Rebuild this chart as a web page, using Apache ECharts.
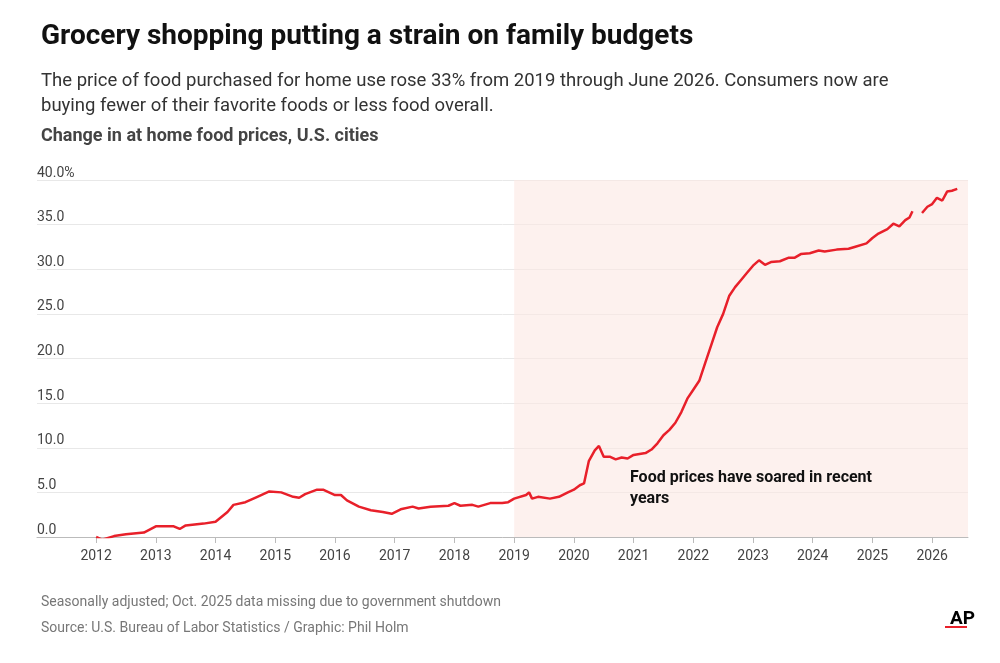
<!DOCTYPE html>
<html style="height: 100%">
<head>
<meta charset="utf-8">
<script src="https://cdn.jsdelivr.net/npm/echarts@6/dist/echarts.min.js"></script>
</head>
<body style="height: 100%; margin: 0; background: #fff">
<div id="container" style="height: 100%"></div>
<script>
var dom = document.getElementById("container");
var myChart = echarts.init(dom);

// [decimal year, % change since Jan 2012]
var prices = [
  [2012.0, 0], [2012.1, -0.3], [2012.3, 0.1], [2012.5, 0.3], [2012.8, 0.5], [2013.0, 1.2],
  [2013.3, 1.2], [2013.4, 0.9], [2013.5, 1.3], [2013.8, 1.5], [2014.0, 1.7], [2014.2, 2.8],
  [2014.3, 3.6], [2014.5, 3.9], [2014.7, 4.5], [2014.9, 5.1], [2015.1, 5.0], [2015.3, 4.5],
  [2015.4, 4.4], [2015.5, 4.8], [2015.7, 5.3], [2015.8, 5.3], [2016.0, 4.7], [2016.1, 4.7],
  [2016.2, 4.1], [2016.4, 3.4], [2016.6, 3.0], [2016.8, 2.8], [2016.95, 2.6], [2017.1, 3.1],
  [2017.3, 3.4], [2017.4, 3.2], [2017.6, 3.4], [2017.9, 3.5], [2018.0, 3.8], [2018.1, 3.5],
  [2018.3, 3.6], [2018.4, 3.4], [2018.6, 3.8], [2018.8, 3.8], [2018.9, 3.9], [2019.0, 4.3],
  [2019.2, 4.7], [2019.25, 5.0], [2019.3, 4.3], [2019.4, 4.5], [2019.6, 4.3], [2019.75, 4.5],
  [2019.9, 5.0], [2020.0, 5.3], [2020.1, 5.8], [2020.17, 6.0], [2020.25, 8.5], [2020.35, 9.7],
  [2020.42, 10.2], [2020.5, 9.0], [2020.6, 9.0], [2020.7, 8.7], [2020.8, 8.9], [2020.9, 8.8],
  [2021.0, 9.2], [2021.2, 9.4], [2021.3, 9.8], [2021.4, 10.5], [2021.5, 11.4], [2021.6, 12.0],
  [2021.7, 12.8], [2021.8, 14.0], [2021.9, 15.5], [2022.0, 16.5], [2022.1, 17.5], [2022.2, 19.5],
  [2022.3, 21.5], [2022.4, 23.5], [2022.5, 25.0], [2022.6, 27.0], [2022.7, 28.0], [2022.8, 28.8],
  [2022.9, 29.6], [2023.0, 30.4], [2023.1, 31.0], [2023.2, 30.5], [2023.3, 30.8], [2023.45, 30.9],
  [2023.6, 31.3], [2023.7, 31.3], [2023.8, 31.7], [2023.95, 31.8], [2024.1, 32.1], [2024.2, 32.0],
  [2024.4, 32.2], [2024.6, 32.3], [2024.7, 32.5], [2024.9, 32.9], [2025.0, 33.5], [2025.1, 34.0],
  [2025.25, 34.5], [2025.35, 35.1], [2025.45, 34.8], [2025.55, 35.5], [2025.62, 35.8], [2025.67, 36.5],
  [2025.75, null],
  [2025.83, 36.3], [2025.92, 37.0], [2026.0, 37.3], [2026.08, 38.0], [2026.17, 37.7],
  [2026.25, 38.7], [2026.33, 38.8], [2026.42, 39.0]
];

var years = [2012, 2013, 2014, 2015, 2016, 2017, 2018, 2019, 2020, 2021, 2022, 2023, 2024, 2025, 2026];

var option = {
  animation: false,
  textStyle: { fontFamily: 'Roboto, "Noto Sans", sans-serif' },
  title: [
    { text: 'Grocery shopping putting a strain on family budgets', left: 36, top: 18,
      textStyle: { fontSize: 28, fontWeight: 'bold', color: '#111' } },
    { text: 'The price of food purchased for home use rose 33% from 2019 through June 2026. Consumers now are\nbuying fewer of their favorite foods or less food overall.',
      left: 36, top: 64, textStyle: { fontSize: 18.5, fontWeight: 'normal', color: '#333', lineHeight: 25 } },
    { text: 'Change in at home food prices, U.S. cities', left: 36, top: 122,
      textStyle: { fontSize: 18, fontWeight: 'bold', color: '#444' } },
    { text: 'Seasonally adjusted; Oct. 2025 data missing due to government shutdown', left: 36, top: 590,
      textStyle: { fontSize: 14, fontWeight: 'normal', color: '#777' } },
    { text: 'Source: U.S. Bureau of Labor Statistics / Graphic: Phil Holm', left: 36, top: 616,
      textStyle: { fontSize: 14, fontWeight: 'normal', color: '#777' } },
    { text: 'AP', left: 945, top: 605, textStyle: { fontSize: 19, fontWeight: 'bold', color: '#000' } }
  ],
  graphic: [
    { type: 'rect', left: 945, top: 626, shape: { width: 22, height: 2 }, style: { fill: '#e8202a' } },
    { type: 'text', left: 630, top: 467, z: 100, style: { text: 'Food prices have soared in recent\nyears',
      font: 'bold 16px Roboto, sans-serif', fill: '#111', lineHeight: 21 } }
  ],
  grid: { left: 37, right: 32, top: 180, bottom: 126 },
  xAxis: {
    type: 'value', min: 2011.01, max: 2026.6,
    splitLine: { show: false },
    axisLine: { lineStyle: { color: '#bbb' } },
    axisTick: { customValues: years, length: 6, lineStyle: { color: '#bbb' } },
    axisLabel: { customValues: years, color: '#444', fontSize: 14, margin: 12,
      formatter: function (v) { return String(v); } }
  },
  yAxis: {
    type: 'value', min: 0, max: 40, interval: 5,
    axisLine: { show: false }, axisTick: { show: false },
    splitLine: { lineStyle: { color: '#e8e8e8' } },
    axisLabel: {
      inside: true, margin: 0, verticalAlign: 'bottom', color: '#444', fontSize: 14,
      formatter: function (v) { return v === 40 ? '40.0%' : v.toFixed(1); }
    }
  },
  series: [{
    type: 'line', data: prices, showSymbol: false, connectNulls: false,
    lineStyle: { color: '#e8202a', width: 2.5 },
    itemStyle: { color: '#e8202a' },
    markArea: {
      silent: true,
      itemStyle: { color: 'rgba(252,232,226,0.6)' },
      data: [[{ xAxis: 2019 }, { xAxis: 2026.6 }]]
    }
  }]
};

myChart.setOption(option);
</script>
</body>
</html>
